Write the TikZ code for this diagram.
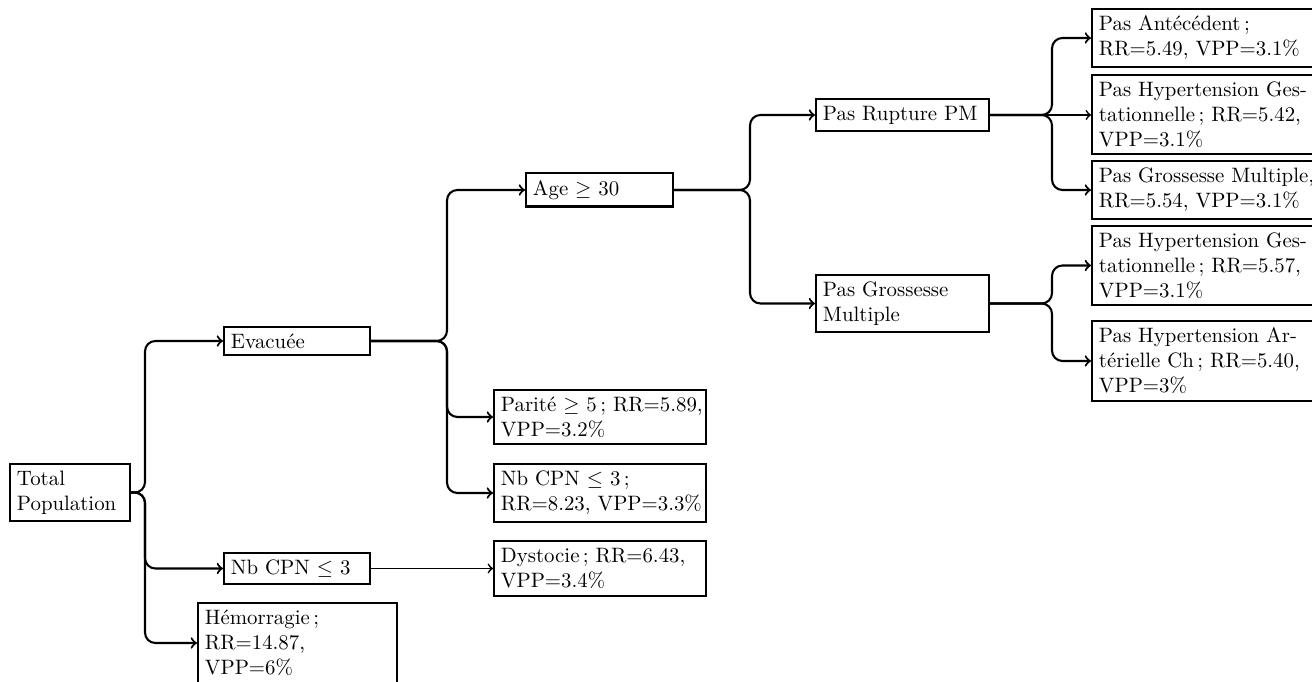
\documentclass[tikz,border=0pt]{standalone}
\usepackage{fontspec}
\begin{document}
\begin{tikzpicture}[x=0.48pt,y=-0.48pt,
  box/.style={draw,line width=1pt,anchor=west,align=left,inner sep=3.33pt},
  edge/.style={line width=1pt,->,rounded corners=5pt},
  sedge/.style={line width=0.8pt,->}]
\useasboundingbox (0,0) rectangle (1312,682);
% level 0
\node[box,text width=50.9pt] (tp) at (9,492.5) {Total\\Population};
% level 1
\node[box,text width=63.4pt] (ev) at (223,341) {Evacuée};
\node[box,text width=63.4pt] (nb) at (223,568.5) {Nb CPN $\leq$ 3};
\node[box,text width=88.9pt] (hem) at (197,643) {Hémorragie\,;\\RR=14.87,\\VPP=6\%};
% level 2
\node[box,text width=63.9pt] (age) at (525,190) {Age $\geq$ 30};
\node[box,text width=95.1pt] (par) at (493,417) {\mbox{Parité $\geq$ 5\,; RR=5.89,}\\VPP=3.2\%};
\node[box,text width=95.1pt] (nb2) at (493,493) {Nb CPN $\leq$ 3\,;\\\mbox{RR=8.23, VPP=3.3\%}};
\node[box,text width=95.1pt] (dys) at (493,568.5) {\mbox{Dystocie\,; RR=6.43,}\\VPP=3.4\%};
% level 3
\node[box,text width=76.4pt] (pr) at (815,115) {Pas Rupture PM};
\node[box,text width=76.4pt] (pg) at (815,303.5) {Pas Grossesse\\Multiple};
% level 4
\node[box,text width=100pt] (r1) at (1091,38) {Pas Antécédent\,;\\\mbox{RR=5.49, VPP=3.1\%}};
\node[box,text width=100pt] (r2) at (1091,114.5) {\mbox{Pas Hypertension Ges-}\\\mbox{tationnelle\,; RR=5.42,}\\VPP=3.1\%};
\node[box,text width=100pt] (r3) at (1091,190) {\mbox{Pas Grossesse Multiple,}\\\mbox{RR=5.54, VPP=3.1\%}};
\node[box,text width=100pt] (r4) at (1091,265.5) {\mbox{Pas Hypertension Ges-}\\\mbox{tationnelle\,; RR=5.57,}\\VPP=3.1\%};
\node[box,text width=100pt] (r5) at (1091,361) {\mbox{Pas Hypertension Ar-}\\\mbox{térielle Ch\,; RR=5.40,}\\VPP=3\%};
% fork points
\coordinate (f0) at (145,492.5);
\coordinate (f1) at (447,341);
\coordinate (f2) at (750,190);
\coordinate (f3) at (1052,115);
\coordinate (f4) at (1052,303.5);
% edges
\draw[edge] (tp.east) -- (f0) |- (ev.west);
\draw[edge] (tp.east) -- (f0) |- (nb.west);
\draw[edge] (tp.east) -- (f0) |- (hem.west);
\draw[sedge] (nb.east) -- (dys.west);
\draw[edge] (ev.east) -- (f1) |- (age.west);
\draw[edge] (ev.east) -- (f1) |- (par.west);
\draw[edge] (ev.east) -- (f1) |- (nb2.west);
\draw[edge] (age.east) -- (f2) |- (pr.west);
\draw[edge] (age.east) -- (f2) |- (pg.west);
\draw[edge] (pr.east) -- (f3) |- (r1.west);
\draw[sedge] (pr.east) -- (pr.east -| r2.west);
\draw[edge] (pr.east) -- (f3) |- (r3.west);
\draw[edge] (pg.east) -- (f4) |- (r4.west);
\draw[edge] (pg.east) -- (f4) |- (r5.west);
\end{tikzpicture}
\end{document}
